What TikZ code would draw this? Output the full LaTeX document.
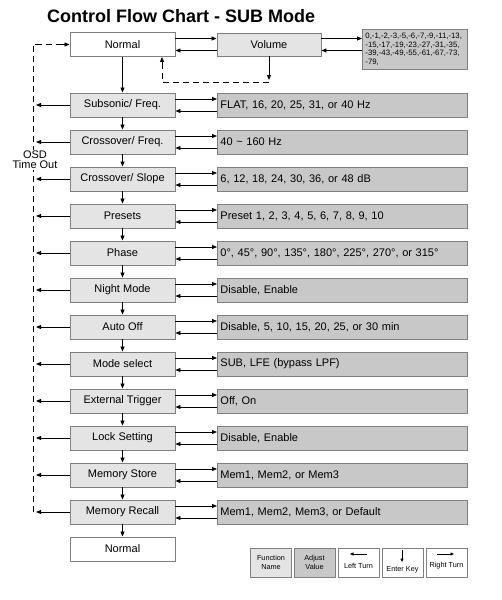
\documentclass[tikz,border=0pt]{standalone}
\usepackage{fontspec}
\setmainfont{Liberation Sans}
\usetikzlibrary{arrows.meta,calc}
\definecolor{fgray}{HTML}{E4E4E4}
\definecolor{vgray}{HTML}{C8C8C8}
\definecolor{bgray}{HTML}{7F7F7F}
\tikzset{
 fbox/.style={draw=bgray, line width=0.9pt, fill=fgray, minimum width=105pt, minimum height=24pt, inner sep=0pt, font=\fontsize{11}{12}\selectfont},
 nbox/.style={fbox, fill=white},
 vbox/.style={draw=bgray, line width=0.9pt, fill=vgray, anchor=west, text width=244pt, inner xsep=3pt, inner ysep=0pt, minimum height=24pt, align=left, font=\fontsize{11}{12}\selectfont},
 arr/.style={line width=0.8pt, -{Triangle[length=5pt,width=4pt]}},
 sarr/.style={line width=0.7pt, -{Triangle[length=3.5pt,width=3pt]}},
 dsh/.style={line width=0.8pt, dash pattern=on 6pt off 4pt},
 lbox/.style={draw=bgray, line width=0.8pt, minimum width=41pt, minimum height=29pt, inner sep=0pt},
 ltext/.style={font=\fontsize{7.3}{9.5}\selectfont, align=center},
}
\begin{document}
\begin{tikzpicture}[x=1pt,y=-1pt]
\useasboundingbox (0,0) rectangle (501,600);
\fill[white] (0,0) rectangle (501,600);

\node[font=\fontsize{18}{20}\selectfont\bfseries, anchor=base west, inner sep=0pt] (title) at (47,22) {Control Flow Chart - SUB Mode};

% top row
\node[nbox] (n0) at (122.5,44.5) {Normal};
\node[fbox, minimum width=104pt, minimum height=23pt] (vol) at (269,44.5) {Volume};
\node[draw=bgray, line width=0.9pt, fill=vgray, anchor=north west, text width=99pt, inner xsep=3pt, inner ysep=0pt, minimum height=40pt, align=left, font=\fontsize{7.8}{8.6}\selectfont] (vv) at (362,29) {0,-1,-2,-3,-5,-6,-7,-9,-11,-13,\\-15,-17,-19,-23,-27,-31,-35,\\-39,-43,-49,-55,-61,-67,-73,\\-79,};

% function rows
\node[fbox] (f1) at (122.5,105) {Subsonic/ Freq.};
\node[fbox] (f2) at (122.5,142) {Crossover/ Freq.};
\node[fbox] (f3) at (122.5,179) {Crossover/ Slope};
\node[fbox] (f4) at (122.5,216) {Presets};
\node[fbox] (f5) at (122.5,253) {Phase};
\node[fbox] (f6) at (122.5,290) {Night Mode};
\node[fbox] (f7) at (122.5,327) {Auto Off};
\node[fbox] (f8) at (122.5,364) {Mode select};
\node[fbox] (f9) at (122.5,401) {External Trigger};
\node[fbox] (f10) at (122.5,438) {Lock Setting};
\node[fbox] (f11) at (122.5,475) {Memory Store};
\node[fbox] (f12) at (122.5,512) {Memory Recall};
\node[nbox] (n1) at (122.5,549) {Normal};

\node[vbox] (v1) at (217,105) {FLAT, 16, 20, 25, 31, or 40 Hz};
\node[vbox] (v2) at (217,142) {40 \char"7E{} 160 Hz};
\node[vbox] (v3) at (217,179) {6, 12, 18, 24, 30, 36, or 48 dB};
\node[vbox] (v4) at (217,216) {Preset 1, 2, 3, 4, 5, 6, 7, 8, 9, 10};
\node[vbox] (v5) at (217,253) {0°, 45°, 90°, 135°, 180°, 225°, 270°, or 315°};
\node[vbox] (v6) at (217,290) {Disable, Enable};
\node[vbox] (v7) at (217,327) {Disable, 5, 10, 15, 20, 25, or 30 min};
\node[vbox] (v8) at (217,364) {SUB, LFE (bypass LPF)};
\node[vbox] (v9) at (217,401) {Off, On};
\node[vbox] (v10) at (217,438) {Disable, Enable};
\node[vbox] (v11) at (217,475) {Mem1, Mem2, or Mem3};
\node[vbox] (v12) at (217,512) {Mem1, Mem2, Mem3, or Default};

% coordinates
\coordinate (tl) at (36,0);
\coordinate (dtop) at (33,44.5);
\coordinate (dbot) at (33,512);
\coordinate (vl) at (269,82);
\coordinate (nl) at (162,82);
\coordinate (vend) at (269,80);

% top arrows
\draw[arr] ([yshift=6pt]n0.east) -- ([yshift=6pt]vol.west);
\draw[arr] ([yshift=-6pt]vol.west) -- ([yshift=-6pt]n0.east);
\draw[arr] ([yshift=6pt]vol.east) -- ([yshift=6pt]vol.east -| vv.west);
\draw[arr] ([yshift=-6pt]vol.east -| vv.west) -- ([yshift=-6pt]vol.east);
\draw[arr] (vol.south) -- (vend);
\draw[dsh] (vl) -- (nl) -- ([yshift=-8pt]nl |- n0.south);
\draw[arr] ([yshift=-8pt]nl |- n0.south) -- (nl |- n0.south);

% row arrows
\foreach \i in {1,...,12} {
  \draw[arr] ([yshift=6pt]f\i.east) -- ([yshift=6pt]v\i.west);
  \draw[arr] ([yshift=-6pt]v\i.west) -- ([yshift=-6pt]f\i.east);
  \draw[arr] (f\i.west) -- (f\i.west -| tl);
}
\foreach \a/\b in {n0/f1,f1/f2,f2/f3,f3/f4,f4/f5,f5/f6,f6/f7,f7/f8,f8/f9,f9/f10,f10/f11,f11/f12,f12/n1}
  \draw[arr] (\a.south) -- (\b.north);

% OSD time out dashed loop
\draw[dsh] (dbot) -- (dtop) -- ([xshift=-8pt]n0.west);
\draw[arr] ([xshift=-8pt]n0.west) -- (n0.west);
\node[fill=white, inner sep=1pt, align=center, font=\fontsize{11}{10}\selectfont] (osd) at (35,160) {OSD\\Time Out};

% legend
\node[lbox, fill=fgray, ltext] (lg1) at (271,562.5) {Function\\Name};
\node[lbox, fill=vgray, ltext] (lg2) at (314.5,562.5) {Adjust\\Value};
\node[lbox, fill=white] (lg3) at (358.5,562.5) {};
\node[lbox, fill=white] (lg4) at (402.5,562.5) {};
\node[lbox, fill=white] (lg5) at (446.5,562.5) {};
\node[ltext] (lg3t) at (358.5,566) {Left Turn};
\node[ltext] (lg4t) at (402.5,570) {Enter Key};
\node[ltext] (lg5t) at (446.5,566) {Right Turn};
\coordinate (lg3a) at (367,554);
\coordinate (lg3b) at (350,554);
\coordinate (lg4a) at (402,550);
\coordinate (lg4b) at (402,562);
\coordinate (lg5a) at (437,554);
\coordinate (lg5b) at (454,554);
\draw[sarr] (lg3a) -- (lg3b);
\draw[sarr] (lg4a) -- (lg4b);
\draw[sarr] (lg5a) -- (lg5b);
\end{tikzpicture}
\end{document}
